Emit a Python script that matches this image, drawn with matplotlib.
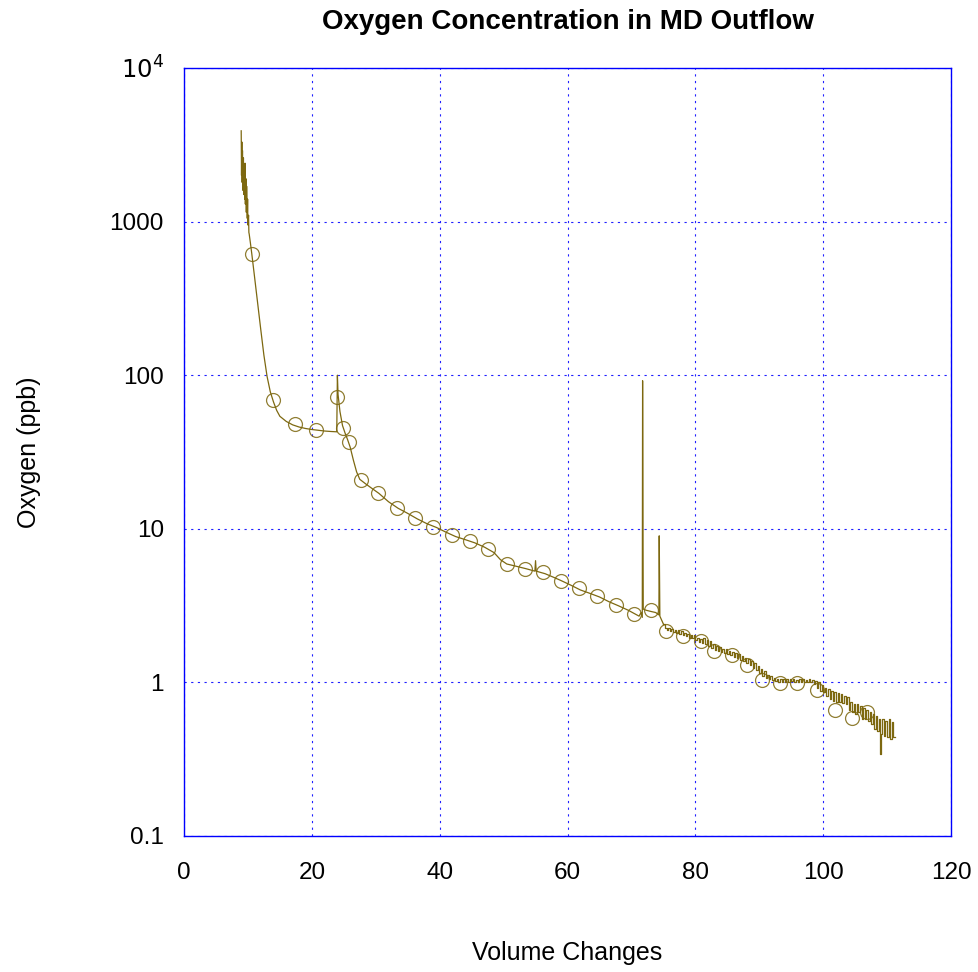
import matplotlib
matplotlib.use("Agg")
import matplotlib.pyplot as plt
from matplotlib.ticker import FixedLocator, FixedFormatter, NullLocator

plt.rcParams['font.family'] = ['Liberation Sans', 'DejaVu Sans']

# Continuous trace (volume changes, ppb)
x_main = [8.95, 9.0, 9.05, 9.1, 9.15, 9.2, 9.3, 9.35, 9.4, 9.5, 9.55, 9.6, 9.7, 9.75, 9.8,
          9.9, 9.95, 10.0, 10.1, 10.15, 10.2, 10.4, 10.6, 11.0, 11.5, 12.0, 12.5, 13.0, 13.5,
          14.0, 14.5, 15.0, 16.0, 17.0, 18.0, 19.0, 20.0, 21.0, 22.0, 23.0, 23.9, 24.0, 24.1,
          24.4, 24.8, 25.2, 25.6, 26.0, 26.5, 27.0, 27.5, 28.5, 29.5, 30.5, 32.0, 33.5, 35.0,
          36.5, 38.0, 39.5, 41.0, 42.5, 44.0, 45.5, 47.0, 48.5, 49.5, 50.5, 52.0, 53.5, 54.9,
          55.0, 55.1, 56.5, 58.0, 59.0, 60.5, 62.0, 63.5, 65.0, 66.5, 68.0, 69.5, 70.5, 71.2,
          71.5, 71.7, 71.75, 71.85, 72.3, 73.0, 73.8, 74.3, 74.35, 74.45, 75.0]
y_main = [3900, 2000, 3300, 1800, 2900, 1600, 2600, 1500, 2300, 1400, 2400, 1300, 1900, 1150, 1700,
          1050, 1400, 950, 1100, 850, 830, 720, 620, 450, 300, 200, 135, 98, 78,
          67, 59, 54, 50, 47.5, 46, 45, 44.3, 43.8, 43.3, 43.0, 42.8, 100, 75,
          58, 47, 42, 38, 34, 28, 23.5, 21, 19.5, 18.2, 17, 15, 13.6, 12.6,
          11.6, 10.8, 10.2, 9.5, 8.9, 8.5, 8.1, 7.6, 7.0, 6.3, 5.9, 5.7, 5.5, 5.3,
          6.2, 5.3, 5.1, 4.8, 4.6, 4.3, 4.0, 3.8, 3.6, 3.35, 3.15, 2.95, 2.80, 2.70,
          2.85, 2.65, 92, 3.0, 2.95, 2.90, 2.85, 2.75, 9.0, 2.7, 2.4]

# Quantized tail of the trace
x_tail = [75.00, 75.25, 75.50, 75.75, 76.00, 76.25, 76.50, 76.75, 77.00, 77.25, 77.50, 77.75,
          78.00, 78.25, 78.50, 78.75, 79.00, 79.25, 79.50, 79.75, 80.00, 80.25, 80.50, 80.75,
          81.00, 81.25, 81.50, 81.75, 82.00, 82.25, 82.50, 82.75, 83.00, 83.25, 83.50, 83.75,
          84.00, 84.25, 84.50, 84.75, 85.00, 85.25, 85.50, 85.75, 86.00, 86.25, 86.50, 86.75,
          87.00, 87.25, 87.50, 87.75, 88.00, 88.25, 88.50, 88.75, 89.00, 89.25, 89.50, 89.75,
          90.00, 90.25, 90.50, 90.75, 91.00, 91.25, 91.50, 91.75, 92.00, 92.25, 92.50, 92.75,
          93.00, 93.25, 93.50, 93.75, 94.00, 94.25, 94.50, 94.75, 95.00, 95.25, 95.50, 95.75,
          96.00, 96.25, 96.50, 96.75, 97.00, 97.25, 97.50, 97.75, 98.00, 98.25, 98.50, 98.75,
          99.00, 99.25, 99.50, 99.75, 100.00, 100.25, 100.50, 100.75, 101.00, 101.25, 101.50,
          101.75, 102.00, 102.25, 102.50, 102.75, 103.00, 103.25, 103.50, 103.75, 104.00,
          104.25, 104.50, 104.75, 105.00, 105.25, 105.50, 105.75, 106.00, 106.25, 106.50,
          106.75, 107.00, 107.25, 107.50, 107.75, 108.00, 108.25, 108.50, 108.75, 108.90,
          109.00, 109.25, 109.50, 109.75, 110.00, 110.25, 110.50, 110.75, 111.00, 111.20]
y_tail = [2.40, 2.25, 2.18, 2.25, 2.15, 2.22, 2.12, 2.20, 2.10, 2.18, 2.08, 2.15,
          2.02, 2.10, 2.00, 2.08, 1.96, 2.04, 1.95, 2.02, 1.88, 1.95, 1.84, 1.92,
          1.80, 1.95, 1.78, 1.90, 1.72, 1.85, 1.68, 1.78, 1.62, 1.72, 1.60, 1.70,
          1.58, 1.66, 1.55, 1.64, 1.52, 1.60, 1.50, 1.58, 1.46, 1.55, 1.44, 1.52,
          1.40, 1.48, 1.38, 1.45, 1.34, 1.42, 1.30, 1.38, 1.25, 1.33, 1.20, 1.28,
          1.15, 1.22, 1.10, 1.18, 1.07, 1.12, 1.05, 1.10, 1.03, 1.07, 1.02, 1.06,
          1.00, 1.05, 1.00, 1.05, 1.01, 1.06, 1.00, 1.05, 1.02, 1.06, 1.00, 1.04,
          1.00, 1.05, 1.01, 1.05, 1.00, 1.04, 1.00, 1.05, 1.00, 1.03, 0.97, 1.02,
          0.92, 1.00, 0.88, 0.96, 0.86, 0.92, 0.82, 0.90, 0.78, 0.88, 0.76,
          0.86, 0.74, 0.85, 0.74, 0.84, 0.73, 0.82, 0.72, 0.80, 0.66,
          0.74, 0.64, 0.72, 0.62, 0.72, 0.64, 0.70, 0.58, 0.68, 0.58,
          0.66, 0.56, 0.64, 0.54, 0.62, 0.50, 0.60, 0.48, 0.58, 0.34,
          0.46, 0.58, 0.45, 0.56, 0.44, 0.58, 0.43, 0.55, 0.44, 0.44]

# Circle markers
x_mark = [10.6, 13.9, 17.4, 20.7, 23.9, 24.9, 25.8, 27.7, 30.4, 33.3, 36.1, 39.0, 41.9, 44.7,
          47.6, 50.5, 53.3, 56.2, 59.0, 61.8, 64.6, 67.6, 70.4, 73.1, 75.4, 78.1, 80.9, 82.9,
          85.7, 88.1, 90.4, 93.2, 95.9, 99.0, 101.8, 104.5, 106.9]
y_mark = [612, 69, 48, 44, 72, 45, 37, 20.8, 17.1, 13.6, 11.7, 10.3, 9.1, 8.3,
          7.4, 5.9, 5.5, 5.2, 4.6, 4.1, 3.65, 3.19, 2.79, 2.96, 2.16, 2.0, 1.86, 1.6,
          1.51, 1.30, 1.04, 0.99, 0.99, 0.89, 0.66, 0.59, 0.64]

x_ticks = [0, 20, 40, 60, 80, 100, 120]
y_ticks = [0.1, 1, 10, 100, 1000, 10000]
y_tick_labels = ['0.1', '1', '10', '100', '1000', r'$10^4$']

col = '#7d6810'

fig = plt.figure(figsize=(9.79, 9.72), dpi=100)
ax = fig.add_axes([184/979, 1-836/972, (951-184)/979, (836-68)/972])

ax.plot(x_main, y_main, color=col, lw=0.9)
ax.plot(x_tail, y_tail, color=col, lw=0.9, drawstyle='steps-post')
ax.plot(x_mark, y_mark, linestyle='none', marker='o', markersize=10,
        markerfacecolor='none', markeredgecolor=col, markeredgewidth=0.9, alpha=0.85)

ax.set_yscale('log')
ax.set_xlim(0, 120)
ax.set_ylim(0.1, 10000)
ax.xaxis.set_major_locator(FixedLocator(x_ticks))
ax.yaxis.set_major_locator(FixedLocator(y_ticks))
ax.yaxis.set_major_formatter(FixedFormatter(y_tick_labels))
ax.yaxis.set_minor_locator(NullLocator())
ax.tick_params(axis='both', length=0, labelsize=17.5)
ax.tick_params(axis='x', pad=19)
ax.tick_params(axis='y', pad=14.5)

ax.grid(True, color='#2020ff', linestyle=(0, (2, 4)), linewidth=0.8)
for s in ax.spines.values():
    s.set_color('#0000ff')
    s.set_linewidth(1.0)

ax.set_title('Oxygen Concentration in MD Outflow', fontsize=20, fontweight='bold', pad=28)
ax.set_xlabel('Volume Changes', fontsize=18, labelpad=41)
ax.set_ylabel('Oxygen (ppb)', fontsize=18, labelpad=49)

fig.savefig('out.png', dpi=100)
